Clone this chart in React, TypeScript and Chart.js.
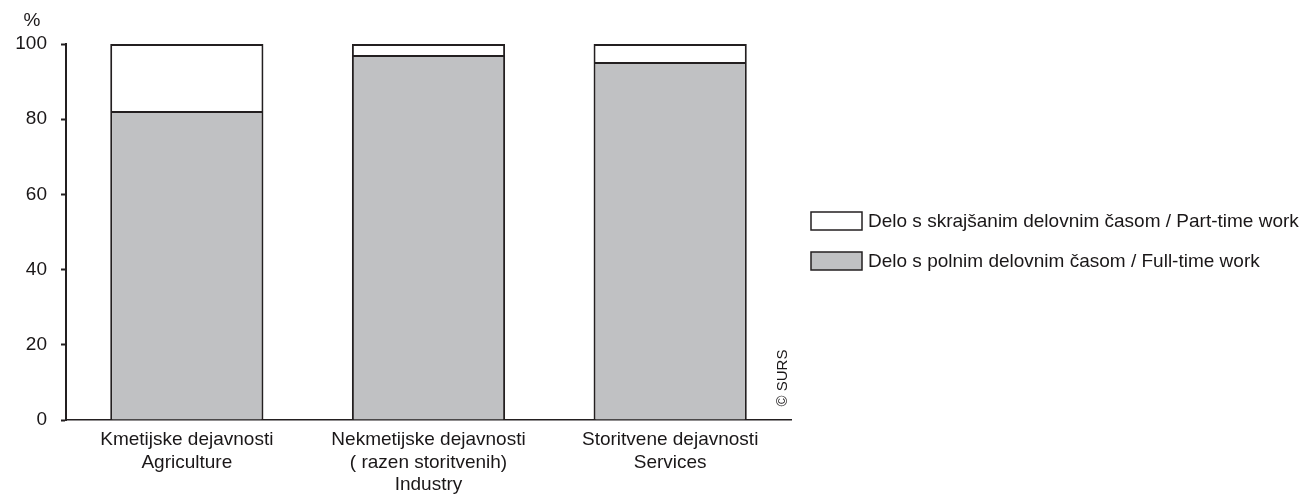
import React, { useEffect, useRef } from "react";
import { Chart, registerables } from "chart.js";

Chart.register(...registerables);

const categories: string[][] = [
  ["Kmetijske dejavnosti", "Agriculture"],
  ["Nekmetijske dejavnosti", "( razen storitvenih)", "Industry"],
  ["Storitvene dejavnosti", "Services"],
];
const fullTimeValues = [82.2, 97.1, 95.2];
const partTimeValues = [17.8, 2.9, 4.8];
const fullTimeLabel = "Delo s polnim delovnim časom / Full-time work";
const partTimeLabel = "Delo s skrajšanim delovnim časom / Part-time work";
const yTickValues = [0, 20, 40, 60, 80, 100];
const unitLabel = "%";
const creditLabel = "© SURS";

const FONT = "'Liberation Sans', Arial, Helvetica, sans-serif";
const TEXT = "#1a1718";
const LINE = "#231f20";
const GREY = "#c0c1c3";

const extrasPlugin = {
  id: "extras",
  afterDraw(chart: any) {
    const { ctx, chartArea } = chart;
    ctx.save();
    ctx.fillStyle = TEXT;
    ctx.textAlign = "center";
    ctx.textBaseline = "middle";
    ctx.font = `19px ${FONT}`;
    ctx.fillText(unitLabel, chartArea.left - 34, chartArea.top - 23);

    ctx.save();
    ctx.translate(chartArea.right - 8, chartArea.bottom - 42);
    ctx.rotate(-Math.PI / 2);
    ctx.font = `15px ${FONT}`;
    ctx.fillText(creditLabel, 0, 0);
    ctx.restore();

    const items = [...chart.data.datasets].reverse();
    ctx.font = `19px ${FONT}`;
    ctx.textAlign = "left";
    items.forEach((ds: any, i: number) => {
      const bx = chartArea.right + 20;
      const by = chartArea.top + 168 + i * 40;
      ctx.fillStyle = ds.backgroundColor;
      ctx.fillRect(bx, by, 51, 18);
      ctx.lineWidth = 1.5;
      ctx.strokeStyle = LINE;
      ctx.strokeRect(bx, by, 51, 18);
      ctx.fillStyle = TEXT;
      ctx.fillText(ds.label, bx + 57, by + 9.5);
    });
    ctx.restore();
  },
};

export default function App() {
  const canvasRef = useRef<HTMLCanvasElement | null>(null);

  useEffect(() => {
    if (!canvasRef.current) return;
    const chart = new Chart(canvasRef.current, {
      type: "bar",
      data: {
        labels: categories,
        datasets: [
          {
            label: fullTimeLabel,
            data: fullTimeValues,
            backgroundColor: GREY,
            borderColor: LINE,
            borderWidth: 2,
            borderSkipped: "start",
          },
          {
            label: partTimeLabel,
            data: partTimeValues,
            backgroundColor: "#ffffff",
            borderColor: LINE,
            borderWidth: 2,
            borderSkipped: "start",
          },
        ],
      },
      options: {
        animation: false,
        responsive: true,
        maintainAspectRatio: false,
        layout: { padding: { top: 44, right: 515, left: 0, bottom: 0 } },
        datasets: { bar: { categoryPercentage: 1, barPercentage: 0.634 } },
        plugins: {
          legend: { display: false },
          tooltip: { enabled: false },
        },
        scales: {
          x: {
            stacked: true,
            grid: { display: false, drawTicks: false, tickLength: 0 },
            border: { display: true, color: LINE, width: 1.5 },
            ticks: {
              color: TEXT,
              font: { family: FONT, size: 19, lineHeight: 1.18 },
              padding: 9,
              maxRotation: 0,
              autoSkip: false,
            },
            afterFit(scale: any) {
              scale.height = 82;
            },
          },
          y: {
            stacked: true,
            min: 0,
            max: 100,
            grid: {
              drawOnChartArea: false,
              drawTicks: true,
              tickLength: 5,
              tickColor: LINE,
              tickWidth: 2,
            },
            border: { display: true, color: LINE, width: 2 },
            ticks: {
              color: TEXT,
              font: { family: FONT, size: 19 },
              padding: 14,
            },
            afterBuildTicks(scale: any) {
              scale.ticks = yTickValues.map((v) => ({ value: v }));
            },
            afterFit(scale: any) {
              scale.width = 66;
            },
          },
        },
      },
      plugins: [extrasPlugin],
    });
    return () => chart.destroy();
  }, []);

  return (
    <div style={{ position: "absolute", left: 0, top: 0, width: 1306, height: 502, background: "#fff" }}>
      <canvas ref={canvasRef} />
    </div>
  );
}
